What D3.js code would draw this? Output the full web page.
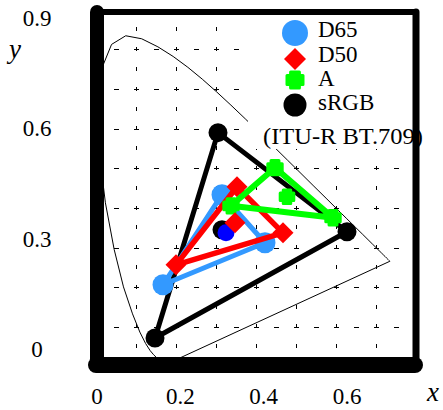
<!DOCTYPE html>
<html>
<head>
<meta charset="utf-8">
<script src="https://cdn.jsdelivr.net/npm/d3@7"></script>
<style>
html,body{margin:0;padding:0;background:#fff;}
svg{display:block;}
</style>
</head>
<body>
<svg id="chart" width="443" height="410"></svg>
<script>
// ---- data ----
const xTicks = [0, 0.2, 0.4, 0.6];
const yTicks = [0, 0.3, 0.6, 0.9];
const xGrid = [0.1, 0.2, 0.3, 0.4, 0.5, 0.6, 0.7];
const yGrid = [0.1, 0.2, 0.3, 0.4, 0.5, 0.6, 0.7, 0.8];

// CIE 1931 spectral locus (380-700 nm, 5 nm)
const locusX = [0.1741,0.1740,0.1738,0.1736,0.1733,0.1730,0.1726,0.1721,0.1714,0.1703,0.1689,0.1669,0.1644,0.1611,0.1566,0.1510,0.1440,0.1355,0.1241,0.1096,0.0913,0.0687,0.0454,0.0235,0.0082,0.0039,0.0139,0.0389,0.0743,0.1142,0.1547,0.1929,0.2296,0.2658,0.3016,0.3373,0.3731,0.4087,0.4441,0.4788,0.5125,0.5448,0.5752,0.6029,0.6270,0.6482,0.6658,0.6801,0.6915,0.7006,0.7079,0.7140,0.7190,0.7230,0.7260,0.7283,0.7300,0.7311,0.7320,0.7327,0.7334,0.7340,0.7344,0.7346,0.7347];
const locusY = [0.0050,0.0050,0.0049,0.0049,0.0048,0.0048,0.0048,0.0048,0.0051,0.0058,0.0069,0.0086,0.0109,0.0138,0.0177,0.0227,0.0297,0.0399,0.0578,0.0868,0.1327,0.2007,0.2950,0.4127,0.5384,0.6548,0.7502,0.8120,0.8338,0.8262,0.8059,0.7816,0.7543,0.7243,0.6923,0.6589,0.6245,0.5896,0.5547,0.5202,0.4866,0.4544,0.4242,0.3965,0.3725,0.3514,0.3340,0.3197,0.3083,0.2993,0.2920,0.2859,0.2809,0.2770,0.2740,0.2717,0.2700,0.2689,0.2680,0.2673,0.2666,0.2660,0.2656,0.2654,0.2653];

// primaries triangles
const seriesNames = ["D65", "D50", "A", "sRGB"];
const d65X = [0.315, 0.4225, 0.1675];
const d65Y = [0.433, 0.312, 0.206];
const d50X = [0.3525, 0.4675, 0.200];
const d50Y = [0.4533, 0.337, 0.2563];
const aX   = [0.4475, 0.5925, 0.3375];
const aY   = [0.5013, 0.375, 0.405];
const srgbX = [0.305, 0.6275, 0.1475];
const srgbY = [0.5896, 0.3396, 0.072];
// white points: D65, D50, A, sRGB
const whiteX = [0.325, 0.3475, 0.4775, 0.315];
const whiteY = [0.337, 0.3624, 0.428, 0.3447];
const noteText = "(ITU-R BT.709)";

// ---- layout ----
const FONT = "'Liberation Serif', 'Times New Roman', Times, 'DejaVu Serif', serif";
const svg = d3.select("#chart");
const x = d3.scaleLinear().domain([0, 0.8]).range([96, 416]);
const y = d3.scaleLinear().domain([0, 0.9]).range([366.5, 9.5]);
// tick label positions (offset from grid in the original)
const xLab = d3.scaleLinear().domain([0, 0.6]).range([97, 347]);
const yLab = d3.scaleLinear().domain([0, 0.9]).range([357, 26]);
const frameTop = 12;

const BLUE = "#3399ff", RED = "#ff0000", GREEN = "#00ff00", BLACK = "#000", DBLUE = "#0000ff";

// grid
const g = svg.append("g").attr("shape-rendering", "crispEdges");
g.selectAll(".vg").data(xGrid).enter().append("line")
  .attr("x1", d => Math.round(x(d)) + 0.5).attr("x2", d => Math.round(x(d)) + 0.5)
  .attr("y1", y(0.9)).attr("y2", y(0))
  .attr("stroke", "#000").attr("stroke-width", 1)
  .attr("stroke-dasharray", "4 15.8").attr("stroke-dashoffset", 2);
g.selectAll(".hg").data(yGrid).enter().append("line")
  .attr("y1", d => Math.round(y(d)) + 0.5).attr("y2", d => Math.round(y(d)) + 0.5)
  .attr("x1", x(0)).attr("x2", x(0.8))
  .attr("stroke", "#000").attr("stroke-width", 1)
  .attr("stroke-dasharray", "5 15").attr("stroke-dashoffset", 2.5);

// locus
const locus = locusX.map((v, i) => [v, locusY[i]]);
svg.append("path")
  .attr("d", d3.line().x(d => x(d[0])).y(d => y(d[1]))(locus) + "Z")
  .attr("fill", "none").attr("stroke", "#000").attr("stroke-width", 1);

// legend background
svg.append("rect").attr("x", 248).attr("y", 16).attr("width", 164).attr("height", 133)
  .attr("fill", "#fff");

// symbols
function plusPath(s) {
  const L = s, w = s * 0.55;
  return `M${-w},${-L}H${w}V${-w}H${L}V${w}H${w}V${L}H${-w}V${w}H${-L}V${-w}H${-w}Z`;
}
function drawMarker(sel, type, cx, cy, size, color) {
  if (type === "circle") {
    sel.append("circle").attr("cx", cx).attr("cy", cy).attr("r", size).attr("fill", color);
  } else if (type === "diamond") {
    sel.append("path").attr("transform", `translate(${cx},${cy})`)
      .attr("d", `M0,${-size}L${size},0L0,${size}L${-size},0Z`).attr("fill", color);
  } else if (type === "plus") {
    sel.append("path").attr("transform", `translate(${cx},${cy})`)
      .attr("d", plusPath(size * 0.8)).attr("fill", color)
      .attr("stroke", color).attr("stroke-width", 3).attr("stroke-linejoin", "round");
  }
}

const tris = [
  {xs: srgbX, ys: srgbY, color: BLACK, type: "circle", size: 9.5, lw: 5},
  {xs: d65X, ys: d65Y, color: BLUE, type: "circle", size: 10.5, lw: 5},
  {xs: d50X, ys: d50Y, color: RED, type: "diamond", size: 10.5, lw: 5.5},
  {xs: aX, ys: aY, color: GREEN, type: "plus", size: 9, lw: 6}
];
const lineGen = d3.line().x(d => x(d[0])).y(d => y(d[1]));
tris.forEach(t => {
  const pts = t.xs.map((v, i) => [v, t.ys[i]]);
  svg.append("path").attr("d", lineGen(pts) + "Z")
    .attr("fill", "none").attr("stroke", t.color).attr("stroke-width", t.lw)
    .attr("stroke-linejoin", "round");
  pts.forEach(p => drawMarker(svg, t.type, x(p[0]), y(p[1]), t.size, t.color));
});

// white points
drawMarker(svg, "circle", x(whiteX[3]), y(whiteY[3]), 9.5, BLACK);
drawMarker(svg, "circle", x(whiteX[0]), y(whiteY[0]), 8.5, DBLUE);
drawMarker(svg, "diamond", x(whiteX[1]), y(whiteY[1]), 10.5, RED);
drawMarker(svg, "plus", x(whiteX[2]), y(whiteY[2]), 8.5, GREEN);

// frame
const fl = x(0), fr = x(0.8), fb = 365;
svg.append("line").attr("x1", fl).attr("x2", fr).attr("y1", frameTop).attr("y2", frameTop)
  .attr("stroke", "#000").attr("stroke-width", 6).attr("stroke-linecap", "round");
svg.append("line").attr("x1", fr).attr("x2", fr).attr("y1", frameTop).attr("y2", fb)
  .attr("stroke", "#000").attr("stroke-width", 7).attr("stroke-linecap", "round");
svg.append("line").attr("x1", fl + 1).attr("x2", fl + 1).attr("y1", frameTop).attr("y2", fb)
  .attr("stroke", "#000").attr("stroke-width", 14).attr("stroke-linecap", "round");
svg.append("line").attr("x1", fl).attr("x2", fr - 1).attr("y1", fb).attr("y2", fb)
  .attr("stroke", "#000").attr("stroke-width", 16).attr("stroke-linecap", "round");

// tick labels
svg.selectAll(".xt").data(xTicks).enter().append("text")
  .attr("x", d => xLab(d)).attr("y", 404).attr("text-anchor", "middle")
  .attr("font-family", FONT).attr("font-size", 23)
  .text(d => d === 0 ? "0" : d3.format(".1f")(d));
svg.selectAll(".yt").data(yTicks).enter().append("text")
  .attr("x", 37).attr("y", d => yLab(d)).attr("text-anchor", "middle")
  .attr("font-family", FONT).attr("font-size", 23)
  .text(d => d === 0 ? "0" : d3.format(".1f")(d));
svg.append("text").attr("x", 433).attr("y", 401).attr("text-anchor", "middle")
  .attr("font-family", FONT).attr("font-size", 27).attr("font-style", "italic").text("x");
svg.append("text").attr("x", 15).attr("y", 58).attr("text-anchor", "middle")
  .attr("font-family", FONT).attr("font-size", 27).attr("font-style", "italic").text("y");

// legend
const legTypes = [
  {type: "circle", size: 13, color: BLUE, cy: 33, ty: 37},
  {type: "diamond", size: 11, color: RED, cy: 59, ty: 62},
  {type: "plus", size: 10, color: GREEN, cy: 80, ty: 86},
  {type: "circle", size: 11.5, color: BLACK, cy: 105, ty: 110}
];
seriesNames.forEach((nm, i) => {
  const L = legTypes[i];
  drawMarker(svg, L.type, 295, L.cy, L.size, L.color);
  svg.append("text").attr("x", 318).attr("y", L.ty)
    .attr("font-family", FONT).attr("font-size", 23).text(nm);
});
svg.append("text").attr("x", 263).attr("y", 144)
  .attr("font-family", FONT).attr("font-size", 23).attr("textLength", 160)
  .attr("lengthAdjust", "spacingAndGlyphs").text(noteText);
</script>
</body>
</html>
